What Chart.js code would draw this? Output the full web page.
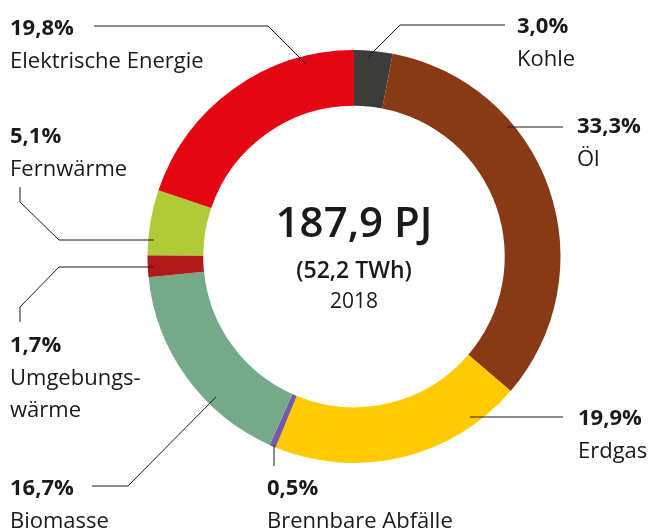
<!DOCTYPE html>
<html>
<head>
<meta charset="utf-8">
<script src="https://cdn.jsdelivr.net/npm/chart.js@4.4.0/dist/chart.umd.min.js"></script>
<style>
  html, body { margin: 0; padding: 0; background: #fff; }
  #wrap { width: 650px; height: 529px; position: relative; }
</style>
</head>
<body>
<div id="wrap"><canvas id="chart-area"></canvas></div>
<script>
// Endenergieverbrauch 2018, Anteile in Prozent
const categories = ['Kohle', 'Öl', 'Erdgas', 'Brennbare Abfälle', 'Biomasse', 'Umgebungs-\nwärme', 'Fernwärme', 'Elektrische Energie'];
const shares = [3.0, 33.3, 19.9, 0.5, 16.7, 1.7, 5.1, 19.8];
const sliceColors = ['#3c3c3b', '#883a16', '#ffcb00', '#7459a5', '#76a98a', '#b01a1b', '#b0cb38', '#e30613'];
const centerLines = ['187,9 PJ', '(52,2 TWh)', '2018'];

const FONT = '"Open Sans", "DejaVu Sans", sans-serif';

// where each label sits and how its leader line runs (pixels)
var labelLayout = [
    { x: 517, y: 33, line: [[368, 57], [400, 25], [505, 25]] },
    { x: 577, y: 133, line: [[507, 127], [563, 127]] },
    { x: 578, y: 425, line: [[470, 417], [563, 417]] },
    { x: 267, y: 495, line: [[274, 445], [274, 466]] },
    { x: 10, y: 495, line: [[216, 397], [128, 486], [92, 486]] },
    { x: 10, y: 352, line: [[154, 267], [59, 267], [20, 307], [20, 322]] },
    { x: 10, y: 143, line: [[154, 240], [59, 240], [20, 202], [20, 187]] },
    { x: 10, y: 35, line: [[306, 64], [268, 26], [94, 26]] }
];

function pct(v) {
    return v.toFixed(1).replace('.', ',') + '%';
}

var labelPlugin = {
    id: 'labels',
    afterDraw: function (chart) {
        var ctx = chart.ctx;
        ctx.save();
        ctx.strokeStyle = '#1a1a1a';
        ctx.lineWidth = 1;
        labelLayout.forEach(function (l, i) {
            ctx.beginPath();
            l.line.forEach(function (p, j) {
                if (j == 0) ctx.moveTo(p[0], p[1]);
                else ctx.lineTo(p[0], p[1]);
            });
            ctx.stroke();

            ctx.fillStyle = '#1a1a1a';
            ctx.textAlign = 'left';
            ctx.textBaseline = 'alphabetic';
            ctx.font = 'bold 22px ' + FONT;
            ctx.fillText(pct(shares[i]), l.x, l.y);
            ctx.font = '22px ' + FONT;
            categories[i].split('\n').forEach(function (t, k) {
                ctx.fillText(t, l.x, l.y + 33 + k * 32);
            });
        });

        // text in the middle
        var cx = 354;
        ctx.textAlign = 'center';
        ctx.font = '600 42px ' + FONT;
        ctx.fillText(centerLines[0], cx, 237);
        ctx.font = '600 23px ' + FONT;
        ctx.fillText(centerLines[1], cx, 278);
        ctx.font = '21px ' + FONT;
        ctx.fillText(centerLines[2], cx, 308);
        ctx.restore();
    }
};

var config = {
    type: 'doughnut',
    data: {
        labels: categories,
        datasets: [{
            data: shares,
            backgroundColor: sliceColors,
            borderWidth: 0
        }]
    },
    options: {
        responsive: false,
        animation: false,
        cutout: '73%',
        events: [],
        layout: { padding: { left: 147, right: 89, top: 50, bottom: 66 } },
        plugins: {
            legend: { display: false },
            tooltip: { enabled: false }
        }
    },
    plugins: [labelPlugin]
};

var canvas = document.getElementById('chart-area');
canvas.width = 650;
canvas.height = 529;
var ctx = canvas.getContext('2d');
window.myPie = new Chart(ctx, config);
</script>
</body>
</html>
